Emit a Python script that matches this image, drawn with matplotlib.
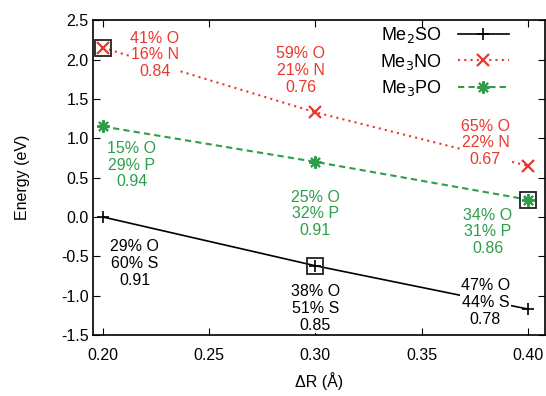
import matplotlib
matplotlib.use("Agg")
import matplotlib.pyplot as plt

plt.rcParams['font.family'] = ['Liberation Sans', 'DejaVu Sans']

dR = [0.20, 0.30, 0.40]
me2so = [0.0, -0.62, -1.17]
me3no = [2.15, 1.33, 0.65]
me3po = [1.15, 0.70, 0.22]

red = '#e8392e'
green = '#2e9e4a'

labels_so = [(0.215, -0.59, "29% O\n60% S\n0.91"),
             (0.300, -1.16, "38% O\n51% S\n0.85"),
             (0.380, -1.09, "47% O\n44% S\n0.78")]
labels_no = [(0.2245, 2.06, "41% O\n16% N\n0.84"),
             (0.293, 1.86, "59% O\n21% N\n0.76"),
             (0.380, 0.94, "65% O\n22% N\n0.67")]
labels_po = [(0.2137, 0.66, "15% O\n29% P\n0.94"),
             (0.300, 0.04, "25% O\n32% P\n0.91"),
             (0.381, -0.19, "34% O\n31% P\n0.86")]

box_x = [0.20, 0.30, 0.40]
box_y = [me3no[0], me2so[1], me3po[2]]

fig = plt.figure(figsize=(5.46, 3.96), dpi=100)
ax = fig.add_axes([0.170, 0.154, 0.828, 0.795])

ax.plot(dR, me2so, color='black', lw=1.2, marker='+', ms=9, mew=1.2, label='Me$_2$SO', zorder=2)
ax.plot(dR, me3no, color=red, lw=1.5, ls=(0, (1, 2)), marker='x', ms=8, mew=1.6, label='Me$_3$NO', zorder=2)
ax.plot(dR, me3po, color=green, lw=1.5, ls=(0, (3, 2)), marker=(8, 2, 0), ms=9, mew=1.5, label='Me$_3$PO', zorder=2)
ax.plot(box_x, box_y, ls='none', marker='s', ms=12, mfc='none', mec='#222222', mew=1.3, zorder=3)

for x, y, t in labels_so:
    ax.text(x, y, t, color='black', ha='center', va='center', fontsize=11.5, linespacing=1.15,
            bbox=dict(fc='white', ec='none', pad=0.5), zorder=4)
for x, y, t in labels_no:
    ax.text(x, y, t, color=red, ha='center', va='center', fontsize=11.5, linespacing=1.15,
            bbox=dict(fc='white', ec='none', pad=0.5), zorder=4)
for x, y, t in labels_po:
    ax.text(x, y, t, color=green, ha='center', va='center', fontsize=11.5, linespacing=1.15,
            bbox=dict(fc='white', ec='none', pad=0.5), zorder=4)

ax.set_xlim(0.1953, 0.408)
ax.set_ylim(-1.5, 2.5)
ax.set_xticks([0.20, 0.25, 0.30, 0.35, 0.40])
ax.set_xticklabels(['0.20', '0.25', '0.30', '0.35', '0.40'])
ax.set_yticks([-1.5, -1.0, -0.5, 0.0, 0.5, 1.0, 1.5, 2.0, 2.5])
ax.set_yticklabels(['-1.5', '-1.0', '-0.5', '0.0', '0.5', '1.0', '1.5', '2.0', '2.5'])
ax.tick_params(direction='in', top=True, right=True, labelsize=11.5, length=5)
ax.tick_params(axis='x', pad=9)
ax.tick_params(axis='y', pad=3)
for s in ax.spines.values():
    s.set_linewidth(1.2)

ax.set_xlabel('ΔR (Å)', fontsize=11.5, labelpad=7)
ax.set_ylabel('Energy (eV)', fontsize=11.5, labelpad=22)

leg = ax.legend(loc='upper right', bbox_to_anchor=(0.956, 1.035), frameon=False, markerfirst=False,
                fontsize=13, handlelength=2.8, labelspacing=0.35, handletextpad=0.9)

fig.savefig('out.png', dpi=100)
